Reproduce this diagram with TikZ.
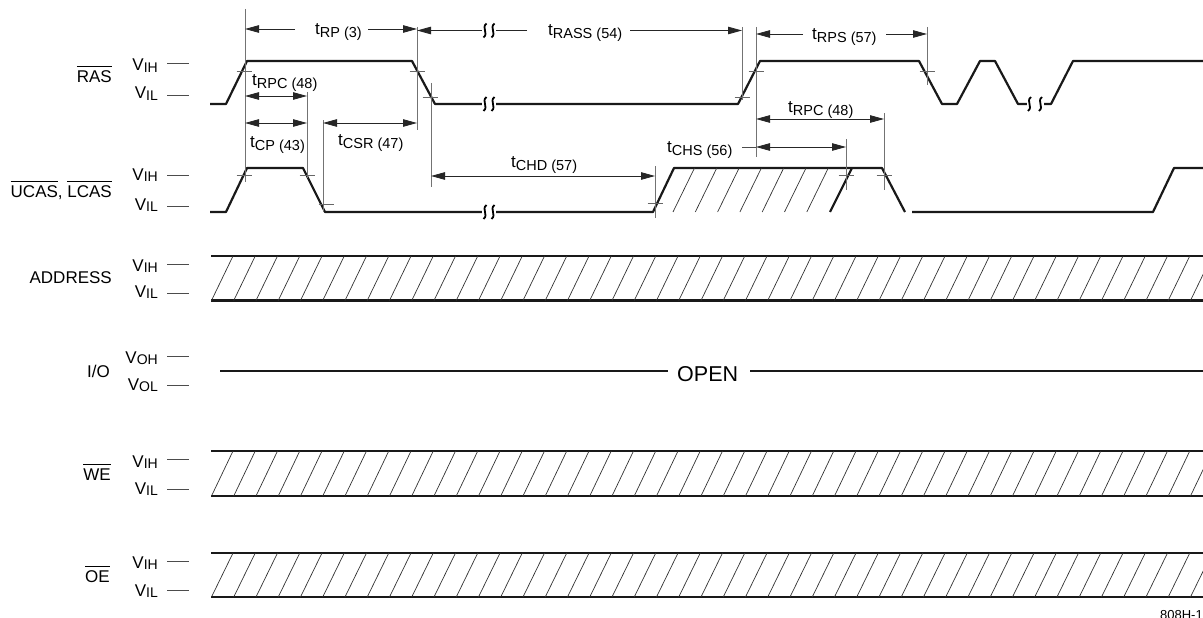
\documentclass[tikz,border=0pt]{standalone}
\usepackage{fontspec}
\setmainfont{Liberation Sans}
\usetikzlibrary{arrows.meta}
\newcommand\ts[2]{#1\raisebox{-3pt}{\fontsize{14.5pt}{14.5pt}\selectfont #2}}
\newcommand\vs[2]{#1\raisebox{-1.5pt}{\fontsize{14pt}{14pt}\selectfont #2}}
\newcommand\ovl[1]{\vbox{\hrule height 1.1pt\kern 3.2pt\hbox{#1}}}
\tikzset{pics/brk/.style={code={
  \fill[white] ({-#1/2-3},-4) rectangle ({#1/2+3},4);
  \foreach \s in {-1,1}{
    \draw[line width=1.8pt, black] ({\s*#1/2+1.5},-7) .. controls ({\s*#1/2-4},-2.5) and ({\s*#1/2+4},2.5) .. ({\s*#1/2-1.5},7);
  }
}}}
\begin{document}
\begin{tikzpicture}[x=1pt,y=-1pt,
  lab/.style={inner sep=0pt, font=\fontsize{17pt}{17pt}\selectfont},
  sig/.style={line width=2.2pt, color=black!90, line join=round},
  thinl/.style={line width=0.8pt, color=black!70},
  ext/.style={line width=0.8pt, color=black!55},
  tk/.style={line width=0.8pt, color=black!60},
  hatch/.style={line width=0.7pt, color=black!80},
  dimarr/.style={line width=0.8pt, color=black!85, {Triangle[length=14pt,width=7.5pt]}-{Triangle[length=14pt,width=7.5pt]}},
  onearr/.style={line width=0.8pt, color=black!85, -{Triangle[length=14pt,width=7.5pt]}}
]
\useasboundingbox (0,0) rectangle (1203,618);

% ---------- signal labels ----------
\node[lab,anchor=base east] (lras) at (112,82) {\ovl{RAS}};
\node[lab,anchor=base east] (lcas) at (112,197) {\ovl{UCAS}, \ovl{LCAS}};
\node[lab,anchor=base east] (laddr) at (112,283) {ADDRESS};
\node[lab,anchor=base east] (lio) at (110,377) {I/O};
\node[lab,anchor=base east] (lwe) at (111,480) {\ovl{WE}};
\node[lab,anchor=base east] (loe) at (110,582) {\ovl{OE}};

% ---------- level labels and dashes ----------
\node[lab,anchor=base east] (v1) at (158,71) {\vs{V}{IH}};
\node[lab,anchor=base east] (v2) at (158,99) {\vs{V}{IL}};
\node[lab,anchor=base east] (v3) at (158,180) {\vs{V}{IH}};
\node[lab,anchor=base east] (v4) at (158,210) {\vs{V}{IL}};
\node[lab,anchor=base east] (v5) at (158,271) {\vs{V}{IH}};
\node[lab,anchor=base east] (v6) at (158,297) {\vs{V}{IL}};
\node[lab,anchor=base east] (v7) at (158,363) {\vs{V}{OH}};
\node[lab,anchor=base east] (v8) at (158,390) {\vs{V}{OL}};
\node[lab,anchor=base east] (v9) at (158,467) {\vs{V}{IH}};
\node[lab,anchor=base east] (v10) at (158,494) {\vs{V}{IL}};
\node[lab,anchor=base east] (v11) at (158,568) {\vs{V}{IH}};
\node[lab,anchor=base east] (v12) at (158,596) {\vs{V}{IL}};
\foreach \y in {63,95,175,206,264,293,356,385,459,489,561,590}
  \draw[thinl] (167,\y) -- (189,\y);

% ---------- waveforms ----------
% RAS
\draw[sig] (210,104) -- (226,104) -- (247,61) -- (412,61) -- (435,104) -- (738,104) -- (760,61) -- (919,61) -- (942,104) -- (957,104) -- (980,61) -- (995,61) -- (1018,104) -- (1051,104) -- (1073,61) -- (1203,61);
% UCAS/LCAS
\draw[sig] (210,212) -- (226,212) -- (247,168) -- (303,168) -- (325,212) -- (653,212) -- (674,168) -- (882,168) -- (905,212);
\draw[sig] (830,212) -- (852,168);
\draw[sig] (912,212) -- (1153,212) -- (1174,168) -- (1203,168);
\foreach \k in {0,...,6}
  \draw[hatch] ({673+22.3*\k},212) -- ++(21.5,-44);

% buses
\foreach \t/\b in {256/300.5, 451/496, 553/597}{
  \draw[sig] (211,\t) -- (1203,\t);
  \draw[sig] (211,\b) -- (1203,\b);
  \begin{scope}
    \clip (211,\t) rectangle (1203,\b);
    \foreach \k in {0,...,44}
      \draw[hatch] ({211.5+22.25*\k},\b) -- ({233+22.25*\k},\t);
  \end{scope}
}

% I/O
\node[inner sep=0pt, anchor=base west, font=\fontsize{21.5pt}{21.5pt}\selectfont] (open) at (677,381) {OPEN};
\draw[sig] (220,371) -- (668,371);
\draw[sig] (750,371) -- (1203,371);

% ---------- extension lines ----------
\draw[ext] (245,9) -- (245,182);
\draw[ext] (417,27) -- (417,130);
\draw[ext] (431,83) -- (431,187);
\draw[ext] (307,92) -- (307,178);
\draw[ext] (323,120) -- (323,212);
\draw[ext] (742,27) -- (742,100);
\draw[ext] (756,27) -- (756,157);
\draw[ext] (927,27) -- (927,85);
\draw[ext] (884,113) -- (884,190);
\draw[ext] (846,139) -- (846,190);
\draw[ext] (655,166) -- (655,218);

% ---------- crossing ticks ----------
\foreach \x/\y in {244/71, 244/175, 417/71, 430/97, 307/175, 326/204, 742/97, 756/71, 927/71, 655/203, 846/175, 884/175}
  \draw[tk] ({\x-7.5},\y) -- ({\x+7.5},\y);

% ---------- timing arrows ----------
% tRP
\node[lab,anchor=base west] (tRP) at (315,35) {\ts{t}{RP (3)}};
\draw[onearr] (295,29) -- (245,29);
\draw[onearr] (368,29) -- (417,29);
% tRASS
\node[lab,anchor=base west] (tRASS) at (548,36) {\ts{t}{RASS (54)}};
\draw[onearr] (527,30.5) -- (417,30.5);
\draw[onearr] (630,30.5) -- (742,30.5);
% tRPS
\node[lab,anchor=base west] (tRPS) at (812,40) {\ts{t}{RPS (57)}};
\draw[onearr] (803,34) -- (756,34);
\draw[onearr] (886,34) -- (927,34);
% tRPC (48) first
\node[lab,anchor=base west] (tRPCa) at (252,85) {\ts{t}{RPC (48)}};
\draw[dimarr] (245,96) -- (307,96);
% tCP
\node[lab,anchor=base west] (tCP) at (250,147) {\ts{t}{CP (43)}};
\draw[dimarr] (245,123) -- (307,123);
% tCSR
\node[lab,anchor=base west] (tCSR) at (338,145) {\ts{t}{CSR (47)}};
\draw[dimarr] (323,123) -- (417,123);
% tCHD
\node[lab,anchor=base west] (tCHD) at (511,167) {\ts{t}{CHD (57)}};
\draw[dimarr] (431,176) -- (655,176);
% tCHS
\node[lab,anchor=base west] (tCHS) at (667,152) {\ts{t}{CHS (56)}};
\draw[thinl] (742,147) -- (756,147);
\draw[dimarr] (756,147) -- (846,147);
% tRPC (48) second
\node[lab,anchor=base west] (tRPCb) at (788,113) {\ts{t}{RPC (48)}};
\draw[dimarr] (756,119) -- (884,119);

% ---------- break marks ----------
\pic at (489,30.5) {brk=8};
\pic at (489,104) {brk=8};
\pic at (489,212) {brk=8};
\pic at (1035,104) {brk=11};

% figure id
\node[inner sep=0pt, anchor=base east, font=\fontsize{13pt}{13pt}\selectfont] (fid) at (1203,619) {808H-1};
\end{tikzpicture}
\end{document}
